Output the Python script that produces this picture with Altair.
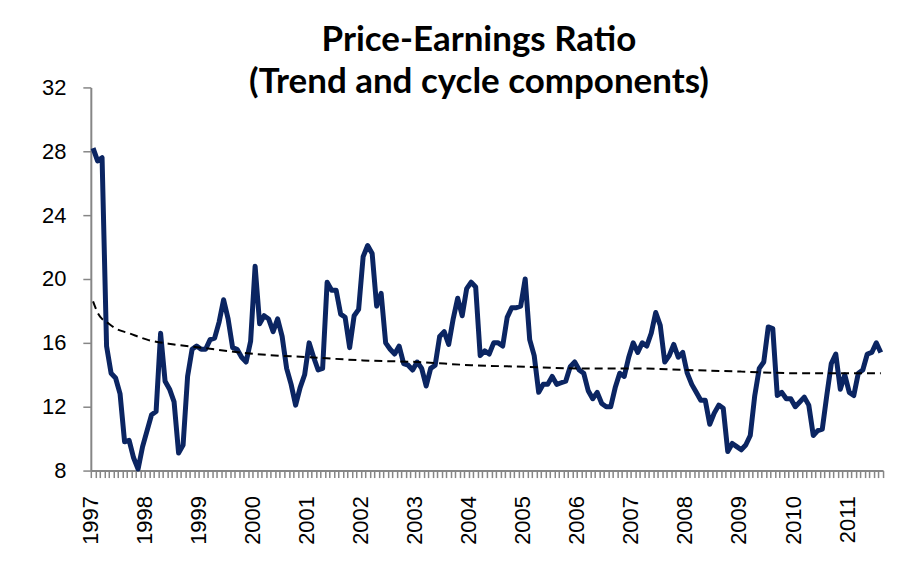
import json
import altair as alt
import pandas as pd

# Month index 0 = Jan 1997 ... 175 = Aug 2011
year_labels = ["1997", "1998", "1999", "2000", "2001", "2002", "2003", "2004",
               "2005", "2006", "2007", "2008", "2009", "2010", "2011"]

pe_ratio = [
    28.2, 27.4, 27.6, 15.8, 14.1, 13.8, 12.8, 9.8, 9.9, 8.8, 8.1, 9.5,      # 1997
    10.5, 11.5, 11.7, 16.6, 13.6, 13.1, 12.3, 9.1, 9.6, 13.9, 15.6, 15.8,   # 1998
    15.6, 15.6, 16.2, 16.3, 17.3, 18.7, 17.5, 15.7, 15.6, 15.1, 14.8, 16.1, # 1999
    20.8, 17.2, 17.7, 17.5, 16.7, 17.5, 16.4, 14.4, 13.4, 12.1, 13.2, 14.0, # 2000
    16.0, 15.1, 14.3, 14.4, 19.8, 19.3, 19.3, 17.8, 17.6, 15.7, 17.7, 18.1, # 2001
    21.4, 22.1, 21.6, 18.3, 19.1, 16.0, 15.6, 15.3, 15.8, 14.7, 14.6, 14.3, # 2002
    14.8, 14.4, 13.3, 14.4, 14.6, 16.4, 16.7, 15.9, 17.5, 18.8, 17.7, 19.4, # 2003
    19.8, 19.5, 15.2, 15.5, 15.3, 16.0, 16.0, 15.8, 17.6, 18.2, 18.2, 18.3, # 2004
    20.0, 16.2, 15.2, 12.9, 13.4, 13.4, 13.9, 13.4, 13.5, 13.6, 14.5, 14.8, # 2005
    14.3, 14.1, 13.0, 12.5, 12.9, 12.2, 12.0, 12.0, 13.2, 14.1, 13.9, 15.1, # 2006
    16.0, 15.4, 16.0, 15.8, 16.6, 17.9, 17.1, 14.8, 15.2, 15.9, 15.1, 15.4, # 2007
    14.1, 13.4, 12.9, 12.4, 12.4, 10.9, 11.6, 12.1, 11.9, 9.2, 9.7, 9.5,    # 2008
    9.3, 9.6, 10.2, 12.7, 14.4, 14.8, 17.0, 16.9, 12.7, 12.9, 12.5, 12.5,   # 2009
    12.0, 12.3, 12.6, 12.1, 10.2, 10.5, 10.6, 12.7, 14.7, 15.3, 13.1, 14.0, # 2010
    12.9, 12.7, 14.1, 14.3, 15.3, 15.4, 16.0, 15.4,                         # 2011
]

trend_month = [0, 1, 2, 3, 5, 8, 12, 18, 24, 36, 48, 60, 72, 84, 96, 108,
               120, 132, 144, 156, 168, 175]
trend_value = [18.6, 17.9, 17.5, 17.3, 16.9, 16.6, 16.2, 15.9, 15.7, 15.3,
               15.1, 14.9, 14.8, 14.6, 14.5, 14.4, 14.4, 14.3, 14.2, 14.1,
               14.1, 14.1]

y_ticks = [8, 12, 16, 20, 24, 28, 32]

df = pd.DataFrame({"m": list(range(len(pe_ratio))), "pe": pe_ratio})
tdf = pd.DataFrame({"m": trend_month, "trend": trend_value})

n = len(pe_ratio)
tick_positions = [k - 0.5 for k in range(n + 1)]
label_expr = ("(datum.value + 0.5) % 12 == 0 ? " + json.dumps(year_labels)
              + "[round((datum.value + 0.5) / 12)] : ''")

x_scale = alt.Scale(domain=[-0.5, n - 0.5], nice=False, zero=False)
x_axis = alt.Axis(
    values=tick_positions,
    labelExpr=label_expr,
    labelAngle=270,
    labelOverlap=False,
    labelBound=False,
    labelFlush=False,
    tickSize=7,
    labelPadding=18,
    title=None,
)

y_scale = alt.Scale(domain=[8, 32], nice=False, zero=False)
y_axis = alt.Axis(values=y_ticks, tickSize=8, labelPadding=17, title=None,
                  labelOverlap=False, labelFlush=False)

pe_line = alt.Chart(df).mark_line(color="#0b2562", strokeWidth=5, strokeJoin="round").encode(
    x=alt.X("m:Q", scale=x_scale, axis=x_axis),
    y=alt.Y("pe:Q", scale=y_scale, axis=y_axis),
)

trend_line = alt.Chart(tdf).mark_line(
    color="black", strokeWidth=2, strokeDash=[8, 5], interpolate="monotone"
).encode(
    x=alt.X("m:Q", scale=x_scale, axis=x_axis),
    y=alt.Y("trend:Q", scale=y_scale, axis=y_axis),
)

chart = (
    alt.layer(pe_line, trend_line)
    .properties(
        width=794,
        height=384,
        background="white",
        padding={"left": 33, "top": 14, "right": 10, "bottom": 5},
        title=alt.TitleParams(
            ["Price-Earnings Ratio", "(Trend and cycle components)"],
            font="Lato",
            fontSize=35,
            fontWeight="bold",
            lineHeight=43,
            anchor="middle",
            dx=-8,
            offset=-24,
            color="black",
        ),
    )
    .configure_view(stroke=None)
    .configure_axis(
        grid=False,
        labelOverlap=False,
        domainColor="#868686",
        domainWidth=2,
        tickColor="#868686",
        tickWidth=1.5,
        labelFont="Liberation Sans",
        labelFontSize=22,
        labelColor="black",
    )
)

chart.save("out.html", embed_options={"renderer": "svg", "actions": False})
